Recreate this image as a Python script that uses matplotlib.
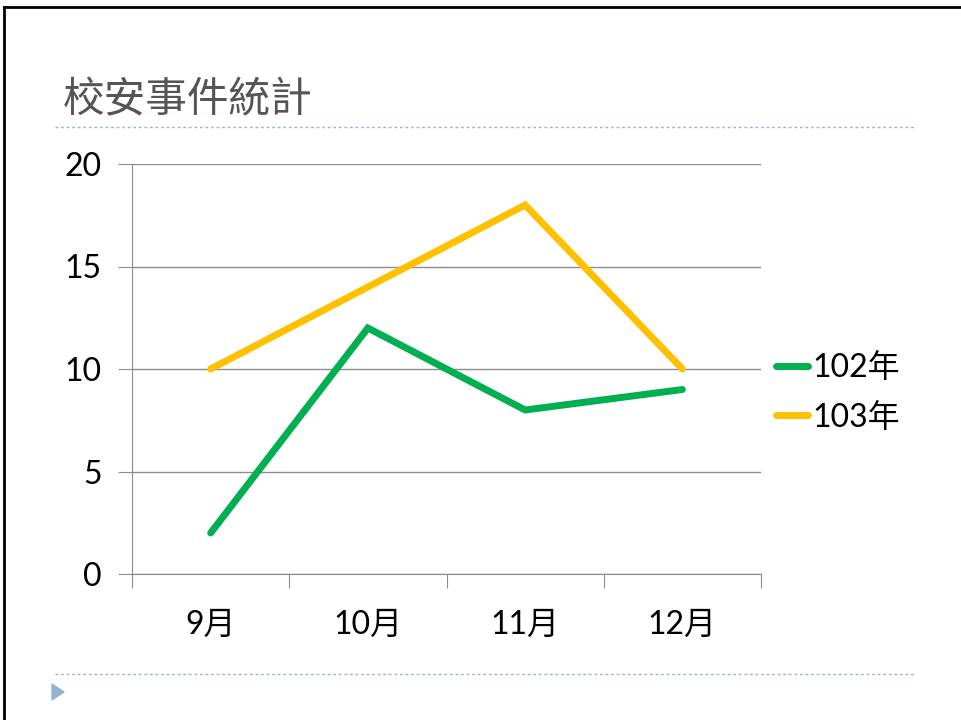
import matplotlib
matplotlib.use("Agg")
import matplotlib.pyplot as plt
from matplotlib.lines import Line2D
from matplotlib.patches import Polygon

# chart data
months = ["9月", "10月", "11月", "12月"]
series_names = ["102年", "103年"]
values_102 = [2, 12, 8, 9]
values_103 = [10, 14, 18, 10]
series_colors = ["#00b050", "#ffc000"]
y_ticks = [0, 5, 10, 15, 20]

plt.rcParams['font.family'] = ['Lato', 'Noto Sans CJK TC', 'DejaVu Sans']

W, H = 961, 720
fig = plt.figure(figsize=(W / 100, H / 100), dpi=100)

def fx(px):
    return px / W

def fy(py):
    return 1 - py / H

# slide border (top and left)
fig.add_artist(Line2D([fx(4), fx(961)], [fy(7), fy(7)], color="black", lw=2))
fig.add_artist(Line2D([fx(4), fx(4)], [fy(7), fy(720)], color="black", lw=2))

# title
fig.text(fx(63), fy(101), "校安事件統計", fontsize=30, color="#555555",
         family=['Noto Sans CJK TC', 'DejaVu Sans'], fontweight="light",
         va="center", ha="left")

# dotted separator lines
for yy in (127, 674):
    fig.add_artist(Line2D([fx(55), fx(915)], [fy(yy), fy(yy)],
                          color="#9db5cc", lw=1, ls=(0, (2, 2))))

# small triangle bullet
fig.add_artist(Polygon([[fx(52), fy(684)], [fx(52), fy(700)], [fx(64), fy(692)]],
                       closed=True, color="#95b3d0", transform=fig.transFigure))

ax = fig.add_axes([fx(132), fy(574), fx(761) - fx(132), fy(164) - fy(574)])
x = list(range(len(months)))
ax.plot(x, values_102, color=series_colors[0], lw=5, label=series_names[0],
        solid_capstyle="round", solid_joinstyle="miter")
ax.plot(x, values_103, color=series_colors[1], lw=5, label=series_names[1],
        solid_capstyle="round", solid_joinstyle="miter")

ax.set_xlim(-0.5, len(months) - 0.5)
ax.set_ylim(0, 20)
ax.set_yticks(y_ticks)
ax.set_yticklabels([str(v) for v in y_ticks], fontsize=23)
ax.yaxis.grid(True, color="#8c8c8c", lw=1)
ax.set_axisbelow(True)

ax.set_xticks([i - 0.5 for i in range(len(months) + 1)])
ax.set_xticklabels([])
ax.set_xticks(x, minor=True)
ax.set_xticklabels(months, minor=True, fontsize=23)
ax.tick_params(axis="x", which="major", length=10, color="#8c8c8c", direction="out")
ax.tick_params(axis="x", which="minor", length=0, pad=26)
ax.tick_params(axis="y", length=10, color="#8c8c8c", pad=12)

for s in ("top", "right"):
    ax.spines[s].set_visible(False)
for s in ("left", "bottom"):
    ax.spines[s].set_color("#8c8c8c")

ax.legend(loc="center left", bbox_to_anchor=(fx(776), fy(393)),
          bbox_transform=fig.transFigure, frameon=False, borderpad=0,
          borderaxespad=0, fontsize=23, handlelength=1.0, handletextpad=0.15,
          labelspacing=0.6)

fig.savefig("out.png", dpi=100)
